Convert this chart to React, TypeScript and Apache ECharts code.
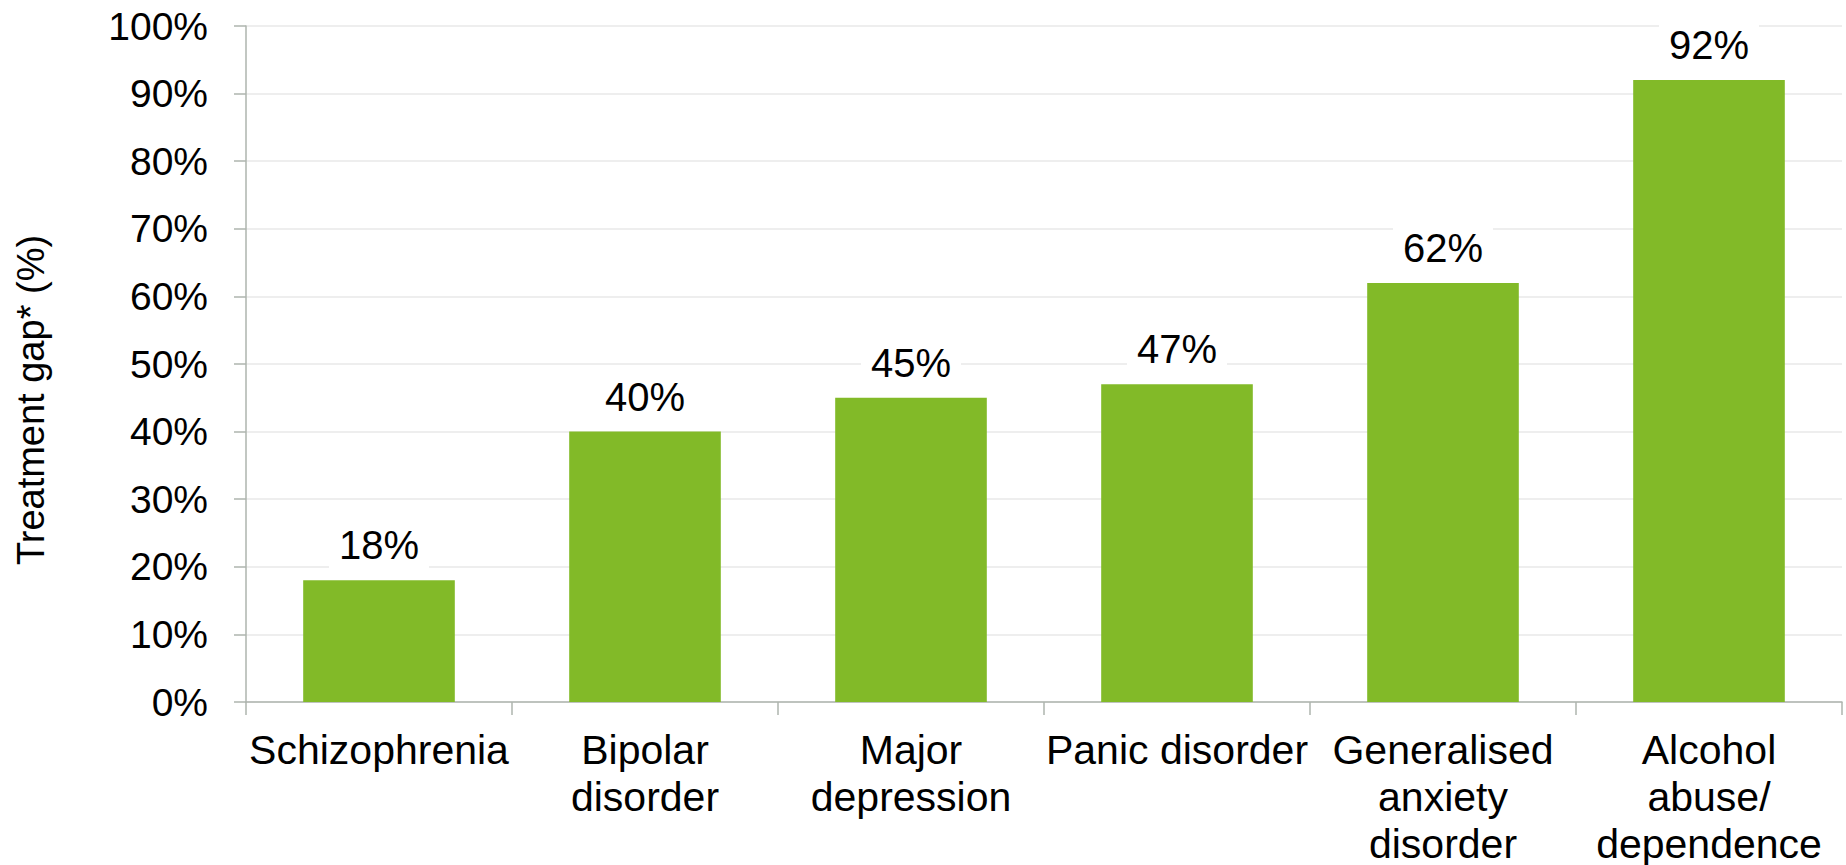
import React, { useEffect, useRef } from "react";
import * as echarts from "echarts";

// Treatment gap by disorder
const categories: string[] = [
  "Schizophrenia",
  "Bipolar\ndisorder",
  "Major\ndepression",
  "Panic disorder",
  "Generalised\nanxiety\ndisorder",
  "Alcohol\nabuse/\ndependence",
];
const gapValues: number[] = [18, 40, 45, 47, 62, 92];
const yTicks = { min: 0, max: 100, interval: 10 };
const yTitle = "Treatment gap* (%)";

const FONT = "'Liberation Sans', Arial, Helvetica, sans-serif";
const BAR_GREEN = "#82BA28";
const AXIS_GREY = "#AEB4AE";
const GRID_GREY = "#E8E8E8";

export default function App() {
  const ref = useRef<HTMLDivElement>(null);

  useEffect(() => {
    if (!ref.current) return;
    const chart = echarts.init(ref.current, undefined, { renderer: "svg" });
    chart.setOption({
      animation: false,
      backgroundColor: "#ffffff",
      textStyle: { fontFamily: FONT, color: "#000" },
      grid: {
        left: 246,
        right: 4,
        top: 26,
        bottom: 163,
        containLabel: false,
        outerBoundsMode: "none",
      },
      xAxis: {
        type: "category",
        data: categories,
        axisLine: { show: true, lineStyle: { color: AXIS_GREY, width: 1.5 } },
        axisTick: { show: true, length: 13, lineStyle: { color: AXIS_GREY, width: 1.5 } },
        axisLabel: {
          interval: 0,
          margin: 24,
          fontSize: 41,
          lineHeight: 47,
          color: "#000",
          fontFamily: FONT,
          align: "center",
        },
      },
      yAxis: {
        type: "value",
        min: yTicks.min,
        max: yTicks.max,
        interval: yTicks.interval,
        axisLine: { show: true, lineStyle: { color: AXIS_GREY, width: 1.5 } },
        axisTick: { show: true, length: 12, lineStyle: { color: AXIS_GREY, width: 1.5 } },
        axisLabel: {
          margin: 38,
          fontSize: 39,
          color: "#000",
          fontFamily: FONT,
          formatter: "{value}%",
        },
        splitLine: { show: true, lineStyle: { color: GRID_GREY, width: 1.5 } },
      },
      series: [
        {
          type: "bar",
          data: gapValues,
          barCategoryGap: "43%",
          itemStyle: { color: BAR_GREEN },
          label: {
            show: true,
            position: "top",
            distance: 10,
            formatter: "{c}%",
            fontSize: 40,
            fontFamily: FONT,
            color: "#000",
            backgroundColor: "#ffffff",
            padding: [8, 10, 5, 10],
          },
        },
      ],
      graphic: [
        {
          type: "text",
          x: 31,
          y: 400,
          rotation: Math.PI / 2,
          style: {
            text: yTitle,
            fontSize: 38,
            fontFamily: FONT,
            fill: "#000",
            align: "center",
            verticalAlign: "middle",
          },
        },
      ],
    });
    return () => chart.dispose();
  }, []);

  return (
    <div
      ref={ref}
      style={{ position: "fixed", left: 0, top: 0, width: 1846, height: 865 }}
    />
  );
}
